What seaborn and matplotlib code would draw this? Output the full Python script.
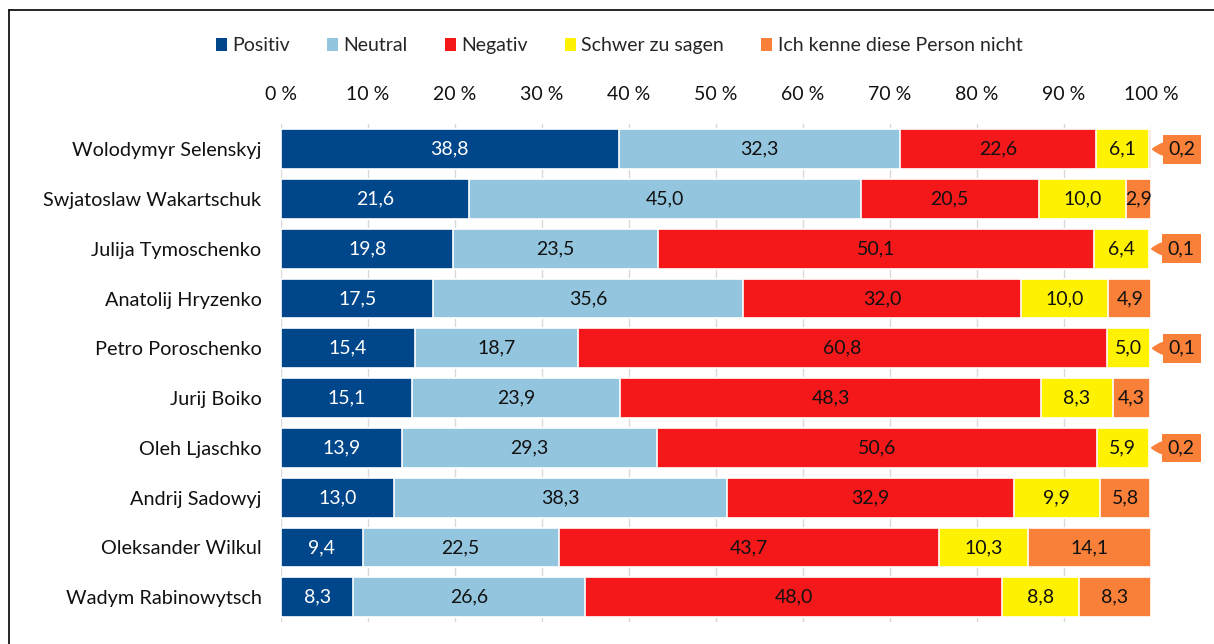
"""
Stacked 100 % bar chart: rating of Ukrainian politicians
"""
import numpy as np
import pandas as pd
import matplotlib
matplotlib.use("Agg")
import matplotlib.pyplot as plt
from matplotlib.patches import Patch
from matplotlib.lines import Line2D
import seaborn as sns

# Data
politicians = [
    "Wolodymyr Selenskyj",
    "Swjatoslaw Wakartschuk",
    "Julija Tymoschenko",
    "Anatolij Hryzenko",
    "Petro Poroschenko",
    "Jurij Boiko",
    "Oleh Ljaschko",
    "Andrij Sadowyj",
    "Oleksander Wilkul",
    "Wadym Rabinowytsch",
]
categories = ["Positiv", "Neutral", "Negativ", "Schwer zu sagen",
              "Ich kenne diese Person nicht"]

positiv = [38.8, 21.6, 19.8, 17.5, 15.4, 15.1, 13.9, 13.0, 9.4, 8.3]
neutral = [32.3, 45.0, 23.5, 35.6, 18.7, 23.9, 29.3, 38.3, 22.5, 26.6]
negativ = [22.6, 20.5, 50.1, 32.0, 60.8, 48.3, 50.6, 32.9, 43.7, 48.0]
schwer = [6.1, 10.0, 6.4, 10.0, 5.0, 8.3, 5.9, 9.9, 10.3, 8.8]
kenne_nicht = [0.2, 2.9, 0.1, 4.9, 0.1, 4.3, 0.2, 5.8, 14.1, 8.3]

xticks = [0, 10, 20, 30, 40, 50, 60, 70, 80, 90, 100]
xtick_labels = [f"{t} %" for t in xticks]

colors = ["#00468A", "#93C5DE", "#F5181B", "#FFF200", "#F98038"]
text_colors = ["white", "#111111", "#111111", "#111111", "#111111"]

FS = 14


def fmt(v):
    return f"{v:.1f}".replace(".", ",")


def main():
    sns.set_theme(style="white")
    plt.rcParams["font.family"] = ["Lato", "DejaVu Sans"]

    values = np.array([positiv, neutral, negativ, schwer, kenne_nicht])
    cum = values.cumsum(axis=0)

    fig = plt.figure(figsize=(12.14, 6.44), dpi=100)
    ax = fig.add_axes([0.2315, 0.034, 0.7167, 0.773])

    # draw cumulative layers from the outermost to the innermost
    for k in range(len(categories) - 1, -1, -1):
        df = pd.DataFrame({"name": politicians, "value": cum[k]})
        sns.barplot(data=df, x="value", y="name", orient="h", color=colors[k],
                    width=0.8, edgecolor="white", linewidth=1.2,
                    saturation=1, ax=ax, zorder=2)

    # labels inside segments, callouts for tiny ones
    for i in range(len(politicians)):
        for k in range(len(categories)):
            v = values[k, i]
            start = cum[k, i] - v
            if v < 1:
                ax.annotate(
                    fmt(v), xy=(cum[k, i], i), xytext=(31, 0),
                    textcoords="offset pixels", ha="center", va="center",
                    fontsize=FS, color="#111111", zorder=5,
                    bbox=dict(boxstyle="square,pad=0.3", fc=colors[k], ec="none"),
                    arrowprops=dict(arrowstyle="wedge,tail_width=0.6,shrink_factor=0.6",
                                    fc=colors[k], ec=colors[k],
                                    shrinkA=0, shrinkB=1),
                    annotation_clip=False,
                )
            else:
                ax.text(start + v / 2, i, fmt(v), ha="center", va="center",
                        fontsize=FS, color=text_colors[k], zorder=4)

    ax.set_xlim(0, 100)
    ax.set_ylim(len(politicians) - 0.5, -0.5)
    ax.set_xticks(xticks)
    ax.set_xticklabels(xtick_labels, fontsize=FS, color="#111111")
    ax.xaxis.tick_top()
    ax.tick_params(axis="x", length=0, pad=15)
    ax.tick_params(axis="y", length=0, pad=14, labelsize=FS + 0.3, labelcolor="#111111")
    ax.set_xlabel("")
    ax.set_ylabel("")
    ax.grid(axis="x", color="#D9D9D9", linewidth=1, zorder=0)
    ax.set_axisbelow(True)
    for s in ax.spines.values():
        s.set_visible(False)

    handles = [Patch(facecolor=c, edgecolor="none") for c in colors]
    fig.legend(handles, categories, loc="center", bbox_to_anchor=(0.51, 0.929),
               ncol=5, frameon=False, fontsize=FS, handlelength=0.55,
               handleheight=0.65, handletextpad=0.3, columnspacing=1.9)

    # outer frame (top and left edge)
    fig.add_artist(Line2D([0.0075, 1.0], [0.984, 0.984], color="black", linewidth=1.2))
    fig.add_artist(Line2D([0.0075, 0.0075], [0.0, 0.984], color="black", linewidth=1.2))

    fig.savefig("out.png", dpi=100)


if __name__ == "__main__":
    main()
